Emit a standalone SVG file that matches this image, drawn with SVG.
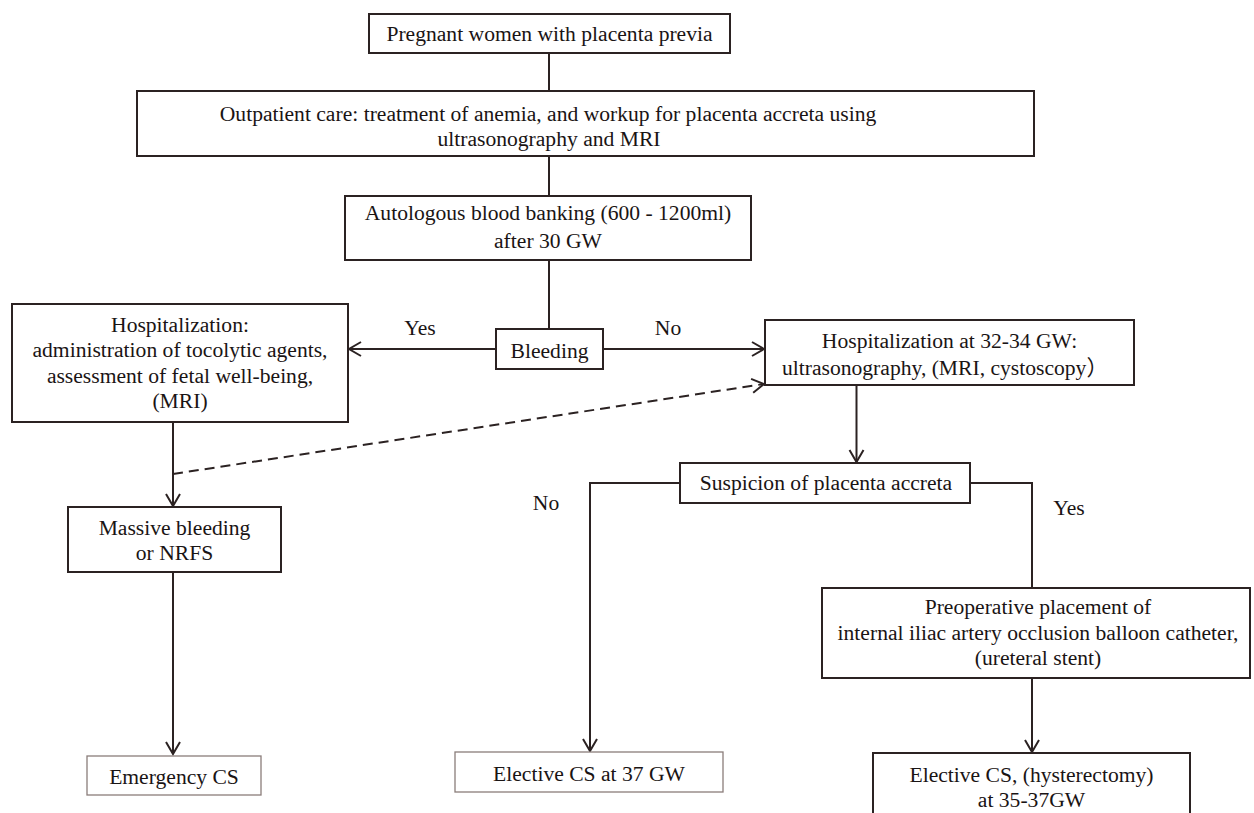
<svg xmlns="http://www.w3.org/2000/svg" width="1254" height="813" viewBox="0 0 1254 813">
<style>
.box{fill:#fff;stroke:#2b2222;stroke-width:2}
.thin{fill:#fff;stroke:#8a7d7a;stroke-width:1.3}
.t{font-family:"Liberation Serif","Times New Roman",serif;font-size:21.6px;fill:#1a1414;text-anchor:middle}
.c{fill:none;stroke:#2b2222;stroke-width:2}
.d{fill:none;stroke:#2b2222;stroke-width:2;stroke-dasharray:10 6}
</style>
<defs>
<marker id="a" markerUnits="userSpaceOnUse" markerWidth="16" markerHeight="18" viewBox="-14 -9 16 18" refX="0" refY="0" orient="auto">
<path d="M-12,-7 L0,0 L-12,7" fill="none" stroke="#2b2222" stroke-width="2"/>
</marker>
</defs>
<rect width="1254" height="813" fill="#fff"/>
<g id="connectors">
<line class="c" x1="549" y1="53" x2="549" y2="91"/>
<line class="c" x1="549" y1="156" x2="549" y2="196"/>
<line class="c" x1="549" y1="260" x2="549" y2="329"/>
<line class="c" x1="496" y1="349" x2="349" y2="349" marker-end="url(#a)"/>
<line class="c" x1="603" y1="349" x2="764" y2="349" marker-end="url(#a)"/>
<line class="c" x1="173" y1="422" x2="173" y2="506" marker-end="url(#a)"/>
<line class="d" x1="173" y1="474" x2="764" y2="384" marker-end="url(#a)"/>
<line class="c" x1="856.5" y1="385" x2="856.5" y2="462" marker-end="url(#a)"/>
<line class="c" x1="173" y1="572" x2="173" y2="754" marker-end="url(#a)"/>
<polyline class="c" points="680,483 590,483 590,751" marker-end="url(#a)"/>
<polyline class="c" points="970,483 1032,483 1032,588"/>
<line class="c" x1="1032" y1="678" x2="1032" y2="752" marker-end="url(#a)"/>
<text class="t" x="420" y="335">Yes</text>
<text class="t" x="668" y="335">No</text>
<text class="t" x="546" y="510">No</text>
<text class="t" x="1069" y="515">Yes</text>
</g>
<g id="n1">
<rect class="box" x="369" y="14" width="361" height="39"/>
<text class="t" x="549.5" y="41">Pregnant women with placenta previa</text>
</g>
<g id="n2">
<rect class="box" x="137" y="91" width="897" height="65"/>
<text class="t" x="548" y="121">Outpatient care: treatment of anemia, and workup for placenta accreta using</text>
<text class="t" x="549" y="146">ultrasonography and MRI</text>
</g>
<g id="n3">
<rect class="box" x="345" y="196" width="406" height="64"/>
<text class="t" x="548" y="220">Autologous blood banking (600 - 1200ml)</text>
<text class="t" x="548" y="248">after 30 GW</text>
</g>
<g id="n4">
<rect class="box" x="496" y="329" width="107" height="40"/>
<text class="t" x="549.5" y="358">Bleeding</text>
</g>
<g id="n5">
<rect class="box" x="12" y="304" width="336" height="118"/>
<text class="t" x="180" y="332">Hospitalization:</text>
<text class="t" x="180" y="357">administration of tocolytic agents,</text>
<text class="t" x="180" y="383">assessment of fetal well-being,</text>
<text class="t" x="180" y="408">(MRI)</text>
</g>
<g id="n6">
<rect class="box" x="765" y="320" width="369" height="65"/>
<text class="t" x="949.5" y="348">Hospitalization at 32-34 GW:</text>
<text class="t" x="945" y="375">ultrasonography, (MRI, cystoscopy<tspan font-family="'Noto Sans CJK SC',sans-serif">）</tspan></text>
</g>
<g id="n7">
<rect class="box" x="68" y="507" width="213" height="65"/>
<text class="t" x="174.5" y="535">Massive bleeding</text>
<text class="t" x="174.5" y="560">or NRFS</text>
</g>
<g id="n8">
<rect class="box" x="680" y="463" width="290" height="40"/>
<text class="t" x="826" y="490">Suspicion of placenta accreta</text>
</g>
<g id="n9">
<rect class="thin" x="87" y="756" width="174" height="39"/>
<text class="t" x="174" y="784">Emergency CS</text>
</g>
<g id="n10">
<rect class="thin" x="455" y="752" width="268" height="40"/>
<text class="t" x="589" y="781">Elective CS at 37 GW</text>
</g>
<g id="n11">
<rect class="box" x="822" y="588" width="428" height="90"/>
<text class="t" x="1038" y="614">Preoperative placement of</text>
<text class="t" x="1038" y="640">internal iliac artery occlusion balloon catheter,</text>
<text class="t" x="1038" y="665">(ureteral stent)</text>
</g>
<g id="n12">
<rect class="box" x="873" y="753" width="317" height="80"/>
<text class="t" x="1031.5" y="782">Elective CS, (hysterectomy)</text>
<text class="t" x="1031.5" y="807">at 35-37GW</text>
</g>
</svg>
